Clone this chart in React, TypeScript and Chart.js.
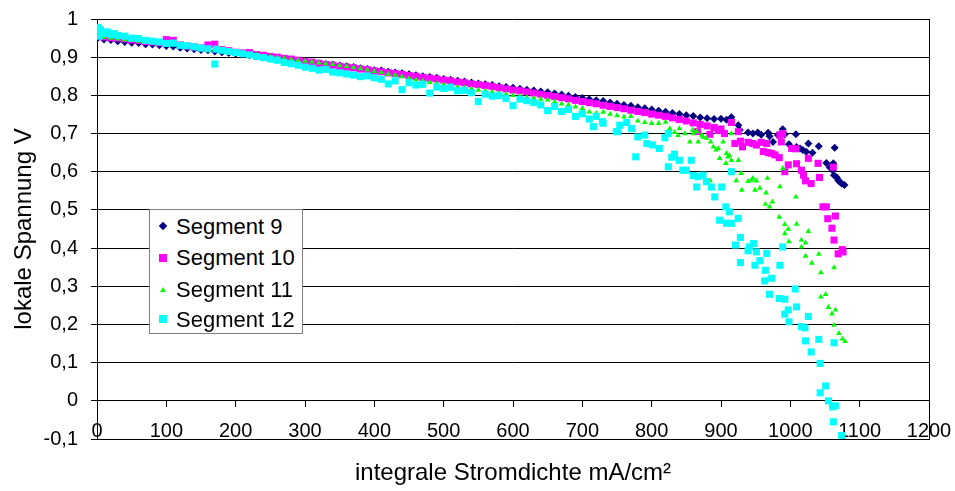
import { useEffect, useRef } from 'react';
import { Chart, registerables } from 'chart.js';

Chart.register(...registerables);

const FONT = "'Liberation Sans', Arial, Helvetica, sans-serif";

const xTickLabels = ['0', '100', '200', '300', '400', '500', '600', '700', '800', '900', '1000', '1100', '1200'];
const yTickLabels = ['-0,1', '0', '0,1', '0,2', '0,3', '0,4', '0,5', '0,6', '0,7', '0,8', '0,9', '1'];

const seriesNames = ['Segment 9', 'Segment 10', 'Segment 11', 'Segment 12'];

// Segment 9
const seg9X = [0, 10, 20, 30, 40, 50, 60, 70, 80, 90, 100, 110, 120, 130, 140, 150, 160, 170, 180, 190, 200, 210, 220, 230, 240, 250, 260, 270, 280, 290, 300, 310, 320, 330, 340, 350, 360, 370, 380, 390, 400, 410, 420, 430, 440, 450, 460, 470, 480, 490, 500, 510, 520, 530, 540, 550, 560, 570, 580, 590, 600, 610, 620, 630, 640, 650, 660, 670, 680, 690, 700, 710, 720, 730, 740, 750, 760, 770, 780, 790, 800, 810, 820, 830, 840, 850, 860, 870, 880, 890, 900, 908,
  915, 925, 927, 939, 946, 953, 958, 968, 970, 975, 982, 989, 992, 998, 1008, 1009, 1014, 1018, 1023, 1026, 1032, 1041, 1052, 1057, 1061, 1062, 1063, 1064, 1067, 1069, 1071, 1074, 1078];
const seg9Y = [0.948, 0.946, 0.945, 0.942, 0.940, 0.938, 0.937, 0.934, 0.933, 0.931, 0.929, 0.928, 0.925, 0.923, 0.921, 0.919, 0.918, 0.915, 0.913, 0.911, 0.909, 0.908, 0.905, 0.904, 0.901, 0.899, 0.897, 0.895, 0.892, 0.890, 0.888, 0.887, 0.884, 0.882, 0.881, 0.878, 0.876, 0.874, 0.871, 0.869, 0.866, 0.865, 0.862, 0.860, 0.858, 0.855, 0.853, 0.850, 0.848, 0.846, 0.843, 0.841, 0.838, 0.836, 0.834, 0.831, 0.829, 0.827, 0.824, 0.822, 0.820, 0.817, 0.815, 0.813, 0.810, 0.808, 0.805, 0.802, 0.799, 0.796, 0.793, 0.790, 0.787, 0.785, 0.781, 0.778, 0.775, 0.773, 0.769, 0.766, 0.763, 0.760, 0.757, 0.754, 0.751, 0.748, 0.746, 0.742, 0.740, 0.738, 0.739, 0.736,
  0.743, 0.722, 0.709, 0.703, 0.700, 0.703, 0.697, 0.702, 0.693, 0.678, 0.696, 0.711, 0.698, 0.672, 0.698, 0.665, 0.661, 0.657, 0.652, 0.674, 0.650, 0.667, 0.623, 0.611, 0.604, 0.622, 0.591, 0.663, 0.585, 0.578, 0.574, 0.569, 0.565];

// Segment 10
const seg10X = [0, 10, 20, 30, 40, 50, 60, 70, 80, 90, 100, 110, 120, 130, 140, 150, 160, 170, 180, 190, 200, 210, 220, 230, 240, 250, 260, 270, 280, 290, 300, 310, 320, 330, 340, 350, 360, 370, 380, 390, 400, 410, 420, 430, 440, 450, 460, 470, 480, 490, 500, 510, 520, 530, 540, 550, 560, 570, 580, 590, 600, 610, 620, 630, 640, 650, 660, 670, 680, 690, 700, 710, 720, 730, 740, 750, 760, 770, 780, 790, 800, 810, 820, 830, 840, 850, 860, 866, 870, 880, 884, 890, 896, 900, 905,
  915, 920, 925, 928, 931, 939, 946, 951, 958, 961, 966, 968, 973, 978, 984, 985, 987, 989, 992, 997, 1002, 1008, 1009, 1016, 1019, 1022, 1026, 1030, 1040, 1042, 1047, 1052, 1054, 1060, 1062, 1063, 1065, 1069, 1075, 1076];
const seg10Y = [0.956, 0.953, 0.951, 0.950, 0.948, 0.945, 0.944, 0.941, 0.940, 0.938, 0.946, 0.944, 0.932, 0.929, 0.927, 0.924, 0.932, 0.934, 0.920, 0.917, 0.913, 0.911, 0.912, 0.907, 0.905, 0.902, 0.900, 0.897, 0.895, 0.892, 0.889, 0.887, 0.884, 0.881, 0.879, 0.876, 0.874, 0.872, 0.869, 0.867, 0.864, 0.862, 0.859, 0.857, 0.855, 0.852, 0.850, 0.847, 0.845, 0.843, 0.840, 0.838, 0.835, 0.833, 0.830, 0.828, 0.826, 0.823, 0.820, 0.817, 0.814, 0.812, 0.809, 0.806, 0.803, 0.800, 0.797, 0.794, 0.791, 0.787, 0.784, 0.781, 0.778, 0.774, 0.771, 0.768, 0.765, 0.761, 0.758, 0.755, 0.751, 0.748, 0.745, 0.741, 0.737, 0.733, 0.728, 0.705, 0.724, 0.720, 0.698, 0.716, 0.708, 0.712, 0.700,
  0.729, 0.674, 0.705, 0.680, 0.665, 0.677, 0.674, 0.670, 0.677, 0.653, 0.674, 0.650, 0.648, 0.644, 0.637, 0.696, 0.678, 0.700, 0.600, 0.618, 0.661, 0.660, 0.621, 0.604, 0.591, 0.576, 0.635, 0.569, 0.622, 0.585, 0.508, 0.508, 0.477, 0.452, 0.612, 0.421, 0.484, 0.385, 0.396, 0.390];

// Segment 11
const seg11X = [0, 10, 20, 30, 40, 50, 60, 70, 80, 90, 100, 110, 120, 130, 140, 150, 160, 170, 180, 190, 200, 210, 220, 230, 240, 250, 260, 270, 280, 290, 300, 310, 320, 330, 340, 350, 360, 370, 380, 390, 400, 410, 420, 430, 440, 450, 460, 470, 480, 490, 500, 510, 520, 530, 540, 550, 560, 570, 580, 590, 600, 610, 620, 630, 640, 650, 660, 670, 680, 690, 700, 710, 720, 730, 740, 750, 760, 770, 780, 790, 800, 810, 820,
  826, 833, 838, 840, 848, 855, 859, 860, 865, 867, 872, 874, 879, 884, 885, 889, 893, 896, 898, 903, 907, 908, 910, 912, 915, 915, 922, 925, 929, 930, 939, 944, 946, 949, 951, 956, 964, 965, 967, 970, 974, 984, 985, 989, 992, 992, 997, 998, 1008, 1009, 1016, 1016, 1022, 1022, 1026, 1031, 1041, 1044, 1044, 1051, 1055, 1060, 1063, 1063, 1065, 1070, 1075, 1079];
const seg11Y = [0.955, 0.952, 0.950, 0.948, 0.946, 0.944, 0.942, 0.940, 0.938, 0.936, 0.934, 0.932, 0.929, 0.927, 0.925, 0.922, 0.920, 0.918, 0.915, 0.913, 0.911, 0.910, 0.907, 0.906, 0.903, 0.901, 0.899, 0.897, 0.894, 0.892, 0.890, 0.888, 0.885, 0.883, 0.881, 0.878, 0.876, 0.873, 0.870, 0.867, 0.863, 0.860, 0.856, 0.853, 0.849, 0.845, 0.841, 0.838, 0.834, 0.831, 0.828, 0.825, 0.822, 0.820, 0.817, 0.814, 0.812, 0.809, 0.806, 0.803, 0.800, 0.798, 0.795, 0.793, 0.790, 0.788, 0.783, 0.778, 0.775, 0.770, 0.766, 0.757, 0.753, 0.756, 0.751, 0.747, 0.744, 0.745, 0.733, 0.729, 0.727, 0.727, 0.730,
  0.713, 0.703, 0.695, 0.713, 0.700, 0.678, 0.709, 0.700, 0.705, 0.678, 0.696, 0.691, 0.688, 0.577, 0.678, 0.665, 0.657, 0.661, 0.635, 0.678, 0.622, 0.648, 0.639, 0.643, 0.700, 0.630, 0.577, 0.630, 0.596, 0.552, 0.575, 0.578, 0.583, 0.552, 0.576, 0.557, 0.515, 0.545, 0.583, 0.508, 0.521, 0.481, 0.561, 0.609, 0.462, 0.438, 0.450, 0.417, 0.534, 0.463, 0.421, 0.403, 0.414, 0.379, 0.444, 0.361, 0.384, 0.336, 0.272, 0.279, 0.245, 0.228, 0.349, 0.198, 0.238, 0.177, 0.162, 0.156];

// Segment 12
const seg12X = [0, 2, 3, 5, 10, 15, 20, 25, 30, 40, 50, 60, 70, 80, 90, 100, 110, 120, 130, 140, 150, 160, 170, 172, 180, 190, 200, 210, 220, 230, 240, 250, 260, 270, 280, 290, 300, 310, 320, 330, 340, 350, 360, 370, 380, 390, 400, 410, 420, 430, 440, 450, 460, 470, 480, 490, 500, 510, 520, 530, 540, 550, 560, 570, 580, 590, 600, 610, 620, 630, 640, 650, 660, 670, 680, 690, 700, 710, 716, 720,
  729, 730, 749, 751, 754, 764, 771, 777, 780, 790, 793, 801, 811, 819, 824, 824, 829, 833, 840, 845, 850, 857, 860, 865, 867, 874, 879, 886, 891, 898, 901, 907, 908, 912, 915, 915, 921, 925, 928, 928, 939, 941, 947, 949, 951, 956, 963, 964, 966, 970, 973, 984, 985, 989, 992, 992, 997, 998, 1007, 1009, 1016, 1021, 1022, 1026, 1030, 1041, 1043, 1043, 1051, 1055, 1061, 1062, 1063, 1065, 1074];
const seg12Y = [0.968, 0.978, 0.955, 0.972, 0.962, 0.966, 0.959, 0.962, 0.957, 0.955, 0.950, 0.949, 0.944, 0.942, 0.940, 0.936, 0.937, 0.931, 0.930, 0.927, 0.924, 0.922, 0.882, 0.921, 0.918, 0.915, 0.912, 0.909, 0.906, 0.902, 0.899, 0.895, 0.892, 0.886, 0.883, 0.879, 0.874, 0.871, 0.866, 0.868, 0.861, 0.859, 0.856, 0.853, 0.849, 0.851, 0.846, 0.842, 0.830, 0.838, 0.815, 0.833, 0.827, 0.829, 0.806, 0.822, 0.818, 0.821, 0.812, 0.813, 0.807, 0.784, 0.803, 0.798, 0.799, 0.792, 0.773, 0.790, 0.786, 0.781, 0.775, 0.760, 0.771, 0.758, 0.763, 0.745, 0.752, 0.738, 0.718, 0.745,
  0.731, 0.727, 0.705, 0.705, 0.722, 0.729, 0.713, 0.639, 0.691, 0.696, 0.674, 0.670, 0.661, 0.689, 0.700, 0.613, 0.638, 0.646, 0.630, 0.604, 0.604, 0.630, 0.590, 0.560, 0.587, 0.591, 0.574, 0.560, 0.534, 0.473, 0.560, 0.508, 0.465, 0.495, 0.600, 0.465, 0.408, 0.478, 0.428, 0.362, 0.393, 0.403, 0.412, 0.355, 0.390, 0.367, 0.314, 0.342, 0.386, 0.279, 0.321, 0.268, 0.355, 0.403, 0.266, 0.227, 0.238, 0.207, 0.293, 0.246, 0.194, 0.191, 0.157, 0.221, 0.128, 0.161, 0.098, 0.021, 0.039, 0.000, -0.016, -0.055, 0.152, -0.013, -0.091];

const seriesColors = ['#000080', '#FF00FF', '#00FF00', '#00FFFF'];

function pts(xs: number[], ys: number[]) {
  return xs.map((x, i) => ({ x, y: ys[i] }));
}

function LegendMarker({ idx }: { idx: number }) {
  const c = seriesColors[idx];
  if (idx === 0) {
    return <div style={{ width: 6, height: 6, background: c, transform: 'rotate(45deg)' }} />;
  }
  if (idx === 2) {
    return <div style={{ width: 0, height: 0, borderLeft: '3px solid transparent', borderRight: '3px solid transparent', borderBottom: `5px solid ${c}` }} />;
  }
  return <div style={{ width: 8, height: 8, background: c }} />;
}

export default function App() {
  const ref = useRef<HTMLCanvasElement | null>(null);

  useEffect(() => {
    if (!ref.current) return;
    const font = { family: FONT, size: 20 };
    const styles = ['rectRot', 'rect', 'triangle', 'rect'];
    const radii = [4, 5, 3.3, 5];
    const xs = [seg9X, seg10X, seg11X, seg12X];
    const ys = [seg9Y, seg10Y, seg11Y, seg12Y];
    const chart = new Chart(ref.current, {
      type: 'scatter',
      data: {
        datasets: seriesNames.map((name, i) => ({
          label: name,
          data: pts(xs[i], ys[i]),
          pointStyle: styles[i] as any,
          pointRadius: radii[i],
          pointHoverRadius: radii[i],
          backgroundColor: seriesColors[i],
          borderColor: seriesColors[i],
          borderWidth: 0,
          showLine: false,
          order: 3 - i,
          xAxisID: 'x',
          yAxisID: 'y',
        })),
      },
      options: {
        animation: false,
        responsive: false,
        maintainAspectRatio: false,
        events: [],
        layout: { padding: { left: 0, top: 19, right: 0, bottom: 0 } },
        plugins: { legend: { display: false }, tooltip: { enabled: false }, title: { display: false } },
        scales: {
          x: {
            type: 'linear',
            position: { y: 0 } as any,
            min: 0,
            max: 1200,
            afterBuildTicks: (s: any) => {
              s.ticks = xTickLabels.map((t) => ({ value: Number(t) }));
            },
            afterFit: (s: any) => {
              s.paddingLeft = 0;
              s.paddingRight = 0;
            },
            ticks: {
              font,
              color: '#000',
              padding: 13,
              maxRotation: 0,
              autoSkip: false,
              callback: (_v: any, i: number) => xTickLabels[i],
            },
            grid: { drawOnChartArea: false, drawTicks: true, tickLength: 6, color: '#000' },
            border: { display: true, color: '#000' },
          },
          x2: {
            type: 'linear',
            position: 'bottom',
            min: 0,
            max: 1200,
            ticks: { display: false },
            grid: { display: false },
            border: { display: false },
            title: {
              display: true,
              text: 'integrale Stromdichte mA/cm²',
              font: { family: FONT, size: 24 },
              color: '#000',
              padding: { top: 0, bottom: 3 },
            },
            afterFit: (s: any) => {
              s.height = 52;
              s.paddingLeft = 0;
              s.paddingRight = 0;
            },
          },
          y: {
            type: 'linear',
            position: 'left',
            min: -0.1,
            max: 1,
            afterBuildTicks: (s: any) => {
              s.ticks = yTickLabels.map((t) => ({ value: Number(t.replace(',', '.')) }));
            },
            ticks: {
              font,
              color: '#000',
              padding: 13,
              autoSkip: false,
              callback: (_v: any, i: number) => yTickLabels[i],
            },
            grid: { color: '#000', tickLength: 6 },
            border: { display: true, color: '#000' },
            title: {
              display: true,
              text: 'lokale Spannung V',
              font: { family: FONT, size: 24 },
              color: '#000',
              padding: { top: 10, bottom: 0 },
            },
            afterFit: (s: any) => {
              s.width = 97;
              s.paddingTop = 0;
              s.paddingBottom = 0;
            },
          },
          y2: {
            type: 'linear',
            position: 'right',
            min: -0.1,
            max: 1,
            ticks: { display: false },
            grid: { drawOnChartArea: false, drawTicks: false },
            border: { display: true, color: '#000' },
            afterFit: (s: any) => {
              s.width = 26;
              s.paddingTop = 0;
              s.paddingBottom = 0;
            },
          },
        },
      } as any,
    });
    return () => chart.destroy();
  }, []);

  const rowCenters = [16, 47.5, 79, 109];

  return (
    <div style={{ position: 'absolute', left: 0, top: 0, width: 955, height: 491, background: '#fff' }}>
      <canvas ref={ref} width={955} height={491} style={{ width: 955, height: 491, display: 'block' }} />
      <div
        style={{
          position: 'absolute',
          left: 149,
          top: 209,
          width: 154,
          height: 125,
          boxSizing: 'border-box',
          border: '1px solid #808080',
          background: '#fff',
          fontFamily: FONT,
          fontSize: 22,
          color: '#000',
        }}
      >
        {seriesNames.map((name, i) => (
          <div
            key={name}
            style={{
              position: 'absolute',
              left: 0,
              top: rowCenters[i] - 15.5,
              height: 31,
              width: '100%',
              display: 'flex',
              alignItems: 'center',
            }}
          >
            <div style={{ width: 26, display: 'flex', justifyContent: 'center', alignItems: 'center' }}>
              <LegendMarker idx={i} />
            </div>
            <span style={{ marginLeft: 0, whiteSpace: 'nowrap', lineHeight: '31px' }}>{name}</span>
          </div>
        ))}
      </div>
    </div>
  );
}
